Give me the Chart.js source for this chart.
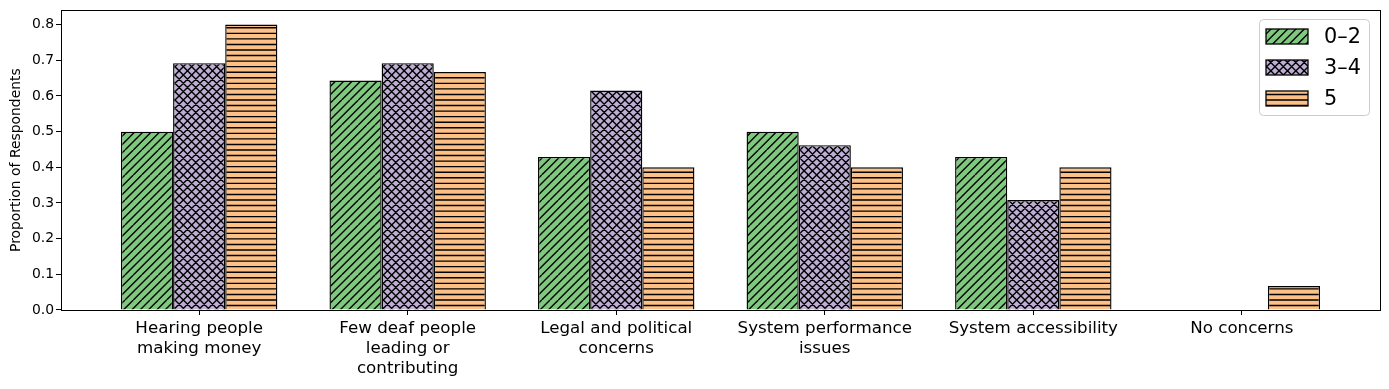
<!DOCTYPE html>
<html>
<head>
<meta charset="utf-8">
<script src="https://cdn.jsdelivr.net/npm/chart.js@4"></script>
<style>
html,body{margin:0;padding:0;background:#fff;}
#wrap{width:1389px;height:389px;}
</style>
</head>
<body>
<div id="wrap"><canvas id="c" width="1389" height="389"></canvas></div>
<script>
const categories = [
  ["Hearing people", "making money"],
  ["Few deaf people", "leading or", "contributing"],
  ["Legal and political", "concerns"],
  ["System performance", "issues"],
  "System accessibility",
  "No concerns"
];
const seriesNames = ["0\u20132", "3\u20134", "5"];
const values02 = [0.500, 0.643, 0.429, 0.500, 0.429, 0.000];
const values34 = [0.692, 0.692, 0.615, 0.462, 0.308, 0.000];
const values5  = [0.800, 0.667, 0.400, 0.400, 0.400, 0.067];
const yTicks = [0, 0.1, 0.2, 0.3, 0.4, 0.5, 0.6, 0.7, 0.8];
const colors = ["#7fc97f", "#beaed4", "#fdc086"];
const hatches = ["diag", "cross", "horiz"];

const FONT = "'DejaVu Sans', sans-serif";

function makePattern(kind, color) {
  const c = document.createElement('canvas');
  let w = 25, h = 25;
  if (kind === 'horiz') { w = 10; h = 50; }
  c.width = w; c.height = h;
  const g = c.getContext('2d');
  g.fillStyle = color; g.fillRect(0, 0, w, h);
  g.strokeStyle = '#000'; g.lineWidth = 1.4;
  const step = 100 / 12;
  g.beginPath();
  if (kind === 'diag' || kind === 'cross') {
    for (let k = -4; k <= 4; k++) {
      const cc = k * step;
      g.moveTo(cc + h, 0); g.lineTo(cc, h);
    }
  }
  if (kind === 'cross') {
    for (let k = -4; k <= 4; k++) {
      const cc = k * step;
      g.moveTo(cc, 0); g.lineTo(cc + h, h);
    }
  }
  if (kind === 'horiz') {
    const s = 50 / 9;
    for (let k = 0; k <= 9; k++) {
      const y = k * s;
      g.moveTo(0, y); g.lineTo(w, y);
    }
  }
  g.stroke();
  return g.createPattern(c, 'repeat');
}

const ctx = document.getElementById('c').getContext('2d');
const patterns = colors.map((col, i) => makePattern(hatches[i], col));
const allValues = [values02, values34, values5];

const datasets = allValues.map((vals, i) => ({
  label: seriesNames[i],
  data: vals.map((v, j) => ({x: j, y: v})),
  backgroundColor: patterns[i],
  borderColor: '#000',
  borderWidth: 1.4,
  categoryPercentage: 0.75,
  barPercentage: 1.0
}));

const framePlugin = {
  id: 'frame',
  afterDraw(chart) {
    const a = chart.chartArea;
    const g = chart.ctx;
    g.save();
    g.strokeStyle = '#000';
    g.lineWidth = 1;
    g.strokeRect(Math.round(a.left) + 0.5, Math.round(a.top) + 0.5, Math.round(a.right - a.left), Math.round(a.bottom - a.top));
    // legend
    const lx = 1259.5, ly = 19.5, lw = 110, lh = 96, r = 4;
    g.beginPath();
    g.moveTo(lx + r, ly);
    g.lineTo(lx + lw - r, ly); g.arcTo(lx + lw, ly, lx + lw, ly + r, r);
    g.lineTo(lx + lw, ly + lh - r); g.arcTo(lx + lw, ly + lh, lx + lw - r, ly + lh, r);
    g.lineTo(lx + r, ly + lh); g.arcTo(lx, ly + lh, lx, ly + lh - r, r);
    g.lineTo(lx, ly + r); g.arcTo(lx, ly, lx + r, ly, r);
    g.closePath();
    g.fillStyle = 'rgba(255,255,255,0.8)';
    g.fill();
    g.strokeStyle = '#cccccc';
    g.lineWidth = 1;
    g.stroke();
    const rows = [36.5, 67.5, 98.5];
    seriesNames.forEach((name, i) => {
      const py = rows[i] - 7.5;
      g.fillStyle = patterns[i];
      g.fillRect(1266, py, 42, 15);
      g.strokeStyle = '#000';
      g.lineWidth = 1.3;
      g.strokeRect(1266, py, 42, 15);
      g.fillStyle = '#000';
      g.font = '20.8px ' + FONT;
      g.textBaseline = 'middle';
      g.textAlign = 'left';
      g.fillText(name, 1324, rows[i] + 1);
    });
    g.restore();
  }
};

new Chart(ctx, {
  type: 'bar',
  data: { datasets },
  options: {
    responsive: false,
    animation: false,
    devicePixelRatio: 1,
    layout: { padding: { left: 0, right: 9, top: 10, bottom: 0 } },
    plugins: { legend: { display: false }, tooltip: { enabled: false } },
    scales: {
      x: {
        type: 'linear',
        min: -0.6625,
        max: 5.6625,
        offset: false,
        grid: { offset: false, drawOnChartArea: false, drawTicks: true, tickLength: 5, color: '#000', tickWidth: 1 },
        border: { display: false },
        afterBuildTicks: s => { s.ticks = categories.map((_, i) => ({value: i})); },
        afterFit: s => { s.height = 79; },
        ticks: {
          autoSkip: false,
          maxRotation: 0,
          minRotation: 0,
          padding: 4,
          color: '#000',
          font: { family: FONT, size: 16.7, lineHeight: 1.2 },
          callback: (v) => categories[Math.round(v)]
        }
      },
      y: {
        min: 0,
        max: 0.84,
        afterBuildTicks: s => { s.ticks = yTicks.map(v => ({value: v})); },
        afterFit: s => { s.width = 61; },
        grid: { offset: false, drawOnChartArea: false, drawTicks: true, tickLength: 5, color: '#000' },
        border: { display: false },
        title: { display: true, text: 'Proportion of Respondents', color: '#000', font: { family: FONT, size: 13.9 }, padding: { top: 8, bottom: 0 } },
        ticks: {
          padding: 2,
          color: '#000',
          font: { family: FONT, size: 13.9 },
          callback: v => v.toFixed(1)
        }
      }
    }
  },
  plugins: [framePlugin]
});
</script>
</body>
</html>
